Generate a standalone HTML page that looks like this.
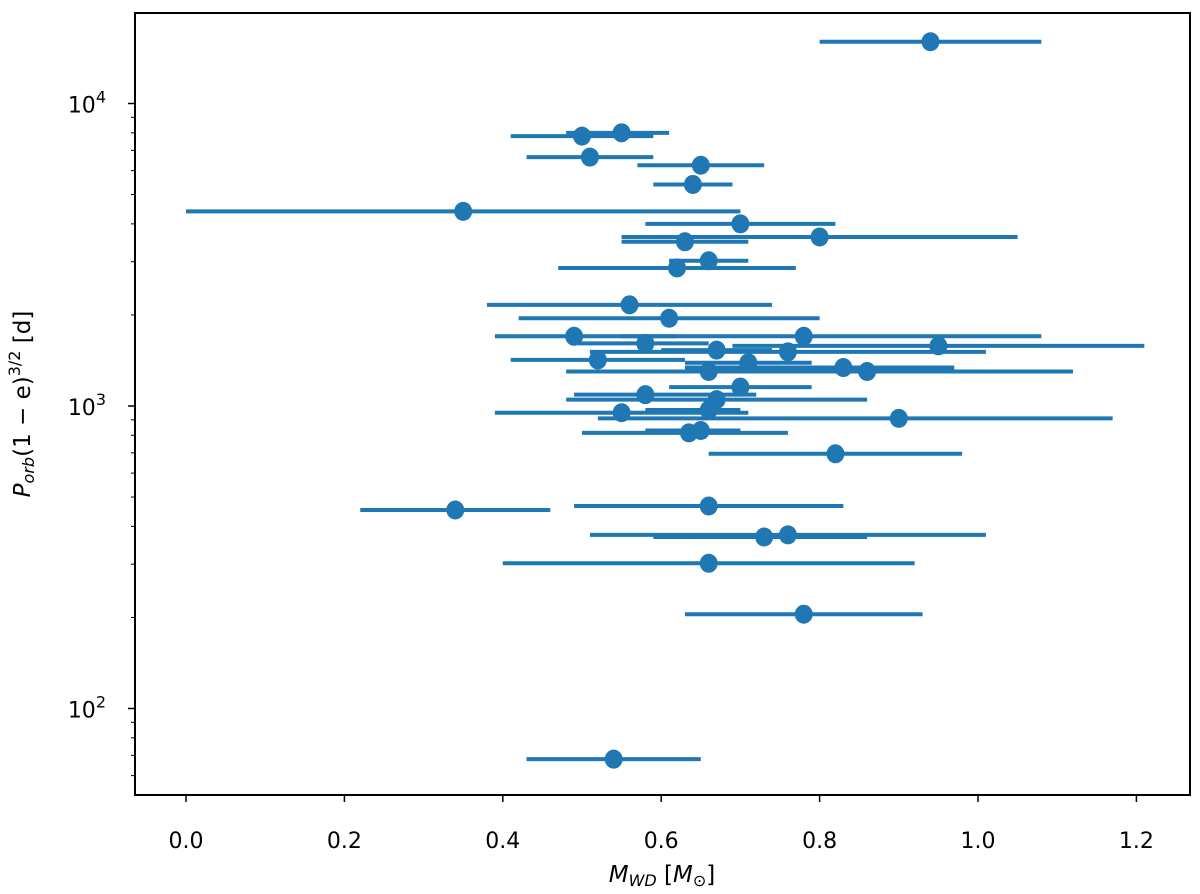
<!DOCTYPE html>
<html><head><meta charset="utf-8"><style>
html,body{margin:0;padding:0;background:#fff;}
svg{display:block;font-family:"DejaVu Sans","Liberation Sans",sans-serif;}
</style></head><body>
<svg id="chart" width="1200" height="894" viewBox="0 0 1200 894" xmlns="http://www.w3.org/2000/svg">
<g id="marks"></g>
<g id="axes"></g>
<rect x="135" y="13" width="1055" height="782" fill="none" stroke="#000" stroke-width="2"/>
<text x="662" y="882" text-anchor="middle" font-size="23" font-style="italic">M<tspan font-size="16" dy="4">WD</tspan><tspan font-style="normal" dy="-4"> [</tspan>M<tspan font-size="16" dy="4" font-style="normal">⊙</tspan><tspan font-style="normal" dy="-4">]</tspan></text>
<text transform="translate(30,404) rotate(-90)" text-anchor="middle" font-size="23" font-style="italic">P<tspan font-size="16" dy="4">orb</tspan><tspan font-style="normal" dy="-4">(1 − e)</tspan><tspan font-style="normal" font-size="16" dy="-10">3/2</tspan><tspan font-style="normal" dy="10"> [d]</tspan></text>
</svg>
<script>
const mass = [0.94,0.50,0.55,0.51,0.65,0.64,0.35,0.70,0.80,0.63,0.66,0.62,0.56,0.61,0.49,0.78,0.58,0.95,0.67,0.76,0.52,0.71,0.66,0.83,0.86,0.70,0.58,0.67,0.55,0.90,0.66,0.635,0.65,0.82,0.34,0.66,0.73,0.76,0.66,0.78,0.54];
const massLo = [0.80,0.41,0.48,0.43,0.57,0.59,0.00,0.58,0.55,0.55,0.61,0.47,0.38,0.42,0.39,0.55,0.495,0.69,0.60,0.51,0.41,0.63,0.48,0.63,0.60,0.61,0.49,0.48,0.39,0.52,0.58,0.50,0.58,0.66,0.22,0.49,0.59,0.51,0.40,0.63,0.43];
const massHi = [1.08,0.59,0.61,0.59,0.73,0.69,0.70,0.82,1.05,0.71,0.71,0.77,0.74,0.80,0.62,1.08,0.66,1.21,0.74,1.01,0.63,0.79,0.76,0.97,1.12,0.79,0.72,0.86,0.71,1.17,0.70,0.76,0.70,0.98,0.46,0.83,0.86,1.01,0.92,0.93,0.65];
const period = [16000,7800,8000,6650,6250,5400,4400,4000,3620,3490,3020,2860,2160,1950,1700,1700,1610,1580,1530,1510,1420,1390,1300,1340,1300,1155,1090,1050,950,910,970,815,830,695,453,467,369,375,302,205,68];
const yTicks = [100,1000,10000];
const yTickExp = ["2","3","4"];
const xTicks = [0.0,0.2,0.4,0.6,0.8,1.0,1.2];
const xTickLabels = ["0.0","0.2","0.4","0.6","0.8","1.0","1.2"];

const NS="http://www.w3.org/2000/svg";
const X = v => 186 + 792*v;
const Y = p => 406 - 302.5*Math.log10(p/1000);
const marks=document.getElementById('marks'), axes=document.getElementById('axes');
function mk(tag, attrs, parent){const e=document.createElementNS(NS,tag);for(const k in attrs)e.setAttribute(k,attrs[k]);parent.appendChild(e);return e;}
const C="#1f77b4";
for(let i=0;i<mass.length;i++){
  const l=mk('line',{x1:X(massLo[i]),x2:X(massHi[i]),y1:Y(period[i]),y2:Y(period[i]),stroke:C,'stroke-width':4},marks);
  
  
}
for(let i=0;i<mass.length;i++){
  const c=mk('ellipse',{cx:X(mass[i]),cy:Y(period[i]),rx:9,ry:9.5,fill:C},marks);
  
  
}
xTicks.forEach((v,i)=>{
  const t=mk('line',{x1:X(v),x2:X(v),y1:795,y2:802,stroke:'#000','stroke-width':1.5},axes);
  
  
  const tx=mk('text',{x:X(v),y:848,'text-anchor':'middle','font-size':22},axes);
  tx.textContent=xTickLabels[i];
  
  
});
yTicks.forEach((p,i)=>{
  const t=mk('line',{x1:128,x2:135,y1:Y(p),y2:Y(p),stroke:'#000','stroke-width':1.5},axes);
  
  
  const tx=mk('text',{x:106,y:Y(p)+9,'text-anchor':'end','font-size':22},axes);
  tx.textContent='10';
  const s=mk('tspan',{'font-size':16,dy:-10},tx);
  s.textContent=yTickExp[i];
  
  
});
for(let d=10;d<=10000;d*=10){for(let k=2;k<=9;k++){const p=d*k;const y=Y(p);if(y<14||y>794)continue;
  const t=mk('line',{x1:131,x2:135,y1:y,y2:y,stroke:'#000','stroke-width':1},axes);
  
  }}
</script>
</body></html>
